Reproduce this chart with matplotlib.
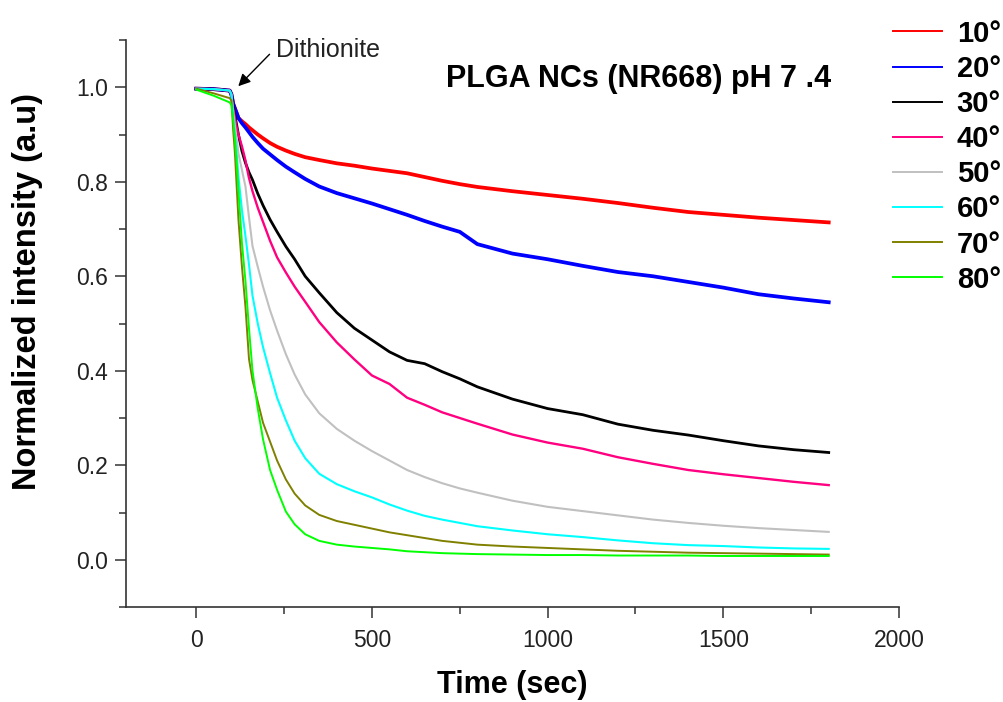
import matplotlib
matplotlib.use("Agg")
import matplotlib.pyplot as plt
from matplotlib.ticker import MultipleLocator

plt.rcParams['font.family'] = ['Liberation Sans', 'DejaVu Sans']

# time (sec) shared by all curves
t = [0, 50, 95, 100, 105, 110, 115, 120, 130, 140, 150, 160, 175, 190, 210, 230, 255, 280, 310,
     350, 400, 450, 500, 550, 600, 650, 700, 750, 800, 900, 1000, 1100, 1200, 1300, 1400, 1500,
     1600, 1700, 1800]

deg10 = [0.997, 0.996, 0.993, 0.985, 0.965, 0.955, 0.945, 0.935, 0.928, 0.922, 0.915, 0.909,
         0.9, 0.892, 0.882, 0.874, 0.866, 0.859, 0.852, 0.846, 0.839, 0.834, 0.828, 0.823, 0.818,
         0.81, 0.802, 0.795, 0.789, 0.78, 0.772, 0.764, 0.755, 0.745, 0.736, 0.73, 0.724, 0.719,
         0.714]
deg20 = [0.997, 0.996, 0.993, 0.985, 0.965, 0.955, 0.945, 0.935, 0.924, 0.915, 0.905, 0.895,
         0.882, 0.87, 0.858, 0.846, 0.832, 0.82, 0.806, 0.79, 0.776, 0.765, 0.754, 0.742, 0.73,
         0.717, 0.705, 0.694, 0.668, 0.648, 0.636, 0.622, 0.609, 0.6, 0.588, 0.576, 0.562, 0.553,
         0.545]
deg30 = [0.997, 0.996, 0.993, 0.985, 0.96, 0.94, 0.92, 0.9, 0.865, 0.84, 0.82, 0.804, 0.775,
         0.75, 0.72, 0.694, 0.663, 0.636, 0.6, 0.565, 0.523, 0.49, 0.465, 0.44, 0.422, 0.415,
         0.398, 0.383, 0.366, 0.34, 0.32, 0.307, 0.287, 0.274, 0.264, 0.252, 0.241, 0.233, 0.227]
deg40 = [0.997, 0.996, 0.993, 0.985, 0.955, 0.935, 0.915, 0.9, 0.875, 0.845, 0.808, 0.78, 0.745,
         0.715, 0.675, 0.64, 0.608, 0.578, 0.546, 0.503, 0.46, 0.424, 0.39, 0.372, 0.343, 0.328,
         0.312, 0.3, 0.288, 0.265, 0.248, 0.235, 0.217, 0.203, 0.19, 0.181, 0.173, 0.165, 0.158]
deg50 = [0.997, 0.996, 0.993, 0.985, 0.95, 0.92, 0.89, 0.86, 0.825, 0.79, 0.725, 0.664, 0.62,
         0.578, 0.528, 0.485, 0.435, 0.392, 0.35, 0.31, 0.277, 0.252, 0.23, 0.21, 0.19, 0.175,
         0.162, 0.151, 0.142, 0.125, 0.112, 0.103, 0.094, 0.085, 0.078, 0.072, 0.067, 0.063, 0.059]
deg60 = [0.997, 0.996, 0.993, 0.985, 0.94, 0.9, 0.86, 0.81, 0.74, 0.685, 0.625, 0.559, 0.5,
         0.45, 0.395, 0.343, 0.295, 0.252, 0.215, 0.182, 0.16, 0.145, 0.132, 0.117, 0.104, 0.093,
         0.085, 0.078, 0.071, 0.062, 0.054, 0.048, 0.041, 0.035, 0.031, 0.029, 0.026, 0.024, 0.023]
deg70 = [0.997, 0.987, 0.977, 0.972, 0.91, 0.86, 0.79, 0.72, 0.62, 0.535, 0.425, 0.38, 0.335,
         0.29, 0.25, 0.21, 0.17, 0.14, 0.115, 0.095, 0.082, 0.074, 0.066, 0.058, 0.052, 0.046,
         0.04, 0.036, 0.032, 0.028, 0.025, 0.022, 0.019, 0.017, 0.015, 0.014, 0.013, 0.012, 0.011]
deg80 = [0.995, 0.982, 0.968, 0.962, 0.93, 0.89, 0.84, 0.78, 0.67, 0.59, 0.49, 0.4, 0.32, 0.255,
         0.19, 0.148, 0.102, 0.075, 0.054, 0.04, 0.032, 0.028, 0.025, 0.022, 0.018, 0.016, 0.014,
         0.013, 0.012, 0.011, 0.01, 0.01, 0.009, 0.009, 0.009, 0.008, 0.008, 0.008, 0.008]

labels = ['10°', '20°', '30°', '40°', '50°', '60°', '70°', '80°']
series = [deg10, deg20, deg30, deg40, deg50, deg60, deg70, deg80]
colors = ['#ff0000', '#0000ff', '#000000', '#ff0080', '#c0c0c0', '#00ffff', '#808000', '#00ff00']
widths = [2.7, 2.7, 2.0, 1.7, 1.5, 1.5, 1.4, 1.4]

fig = plt.figure(figsize=(10.04, 7.02), dpi=100)
ax = fig.add_axes([0.1255, 0.1353, 0.7699, 0.8077])

lines = []
for y, lab, c, w in zip(series, labels, colors, widths):
    l, = ax.plot(t, y, color=c, lw=w, label=lab)
    lines.append(l)

ax.set_xlim(-200, 2000)
ax.set_ylim(-0.1, 1.1)
ax.xaxis.set_major_locator(MultipleLocator(500))
ax.xaxis.set_minor_locator(MultipleLocator(250))
ax.yaxis.set_major_locator(MultipleLocator(0.2))
ax.yaxis.set_minor_locator(MultipleLocator(0.1))
ax.yaxis.set_major_formatter(plt.FuncFormatter(lambda v, p: f'{v:.1f}'))

for s in ['top', 'right']:
    ax.spines[s].set_visible(False)
for s in ['left', 'bottom']:
    ax.spines[s].set_color('#333333')
    ax.spines[s].set_linewidth(1.2)
ax.tick_params(which='major', direction='out', length=8, width=1.1, color='#333333',
               labelcolor='#222222', labelsize=16.5, pad=5)
ax.tick_params(which='minor', direction='out', length=5, width=1.1, color='#333333')
ax.tick_params(axis='x', which='major', pad=8)

ax.set_xlabel('Time (sec)', fontsize=22, fontweight='bold', labelpad=13)
ax.set_ylabel('Normalized intensity (a.u)', fontsize=23.5, fontweight='bold')
ax.yaxis.set_label_coords(-0.108, 0.557)

ax.text(712, 1.017, 'PLGA NCs (NR668) pH 7 .4', fontsize=22, fontweight='bold',
        ha='left', va='center')
ax.annotate('', xy=(114, 0.998), xytext=(214, 1.074),
            arrowprops=dict(arrowstyle='-|>', color='black', lw=1.0, mutation_scale=18))
ax.text(228, 1.078, 'Dithionite', fontsize=18, ha='left', va='center', color='#222222')

leg = fig.legend(handles=lines, loc='upper left', bbox_to_anchor=(0.889, 0.972),
                 frameon=False, prop={'weight': 'bold', 'size': 21}, borderaxespad=0,
                 handlelength=1.7, handletextpad=0.5, labelspacing=0.245, borderpad=0)
for l in leg.get_lines():
    l.set_linewidth(1.4)

fig.savefig('out.png', dpi=100)
